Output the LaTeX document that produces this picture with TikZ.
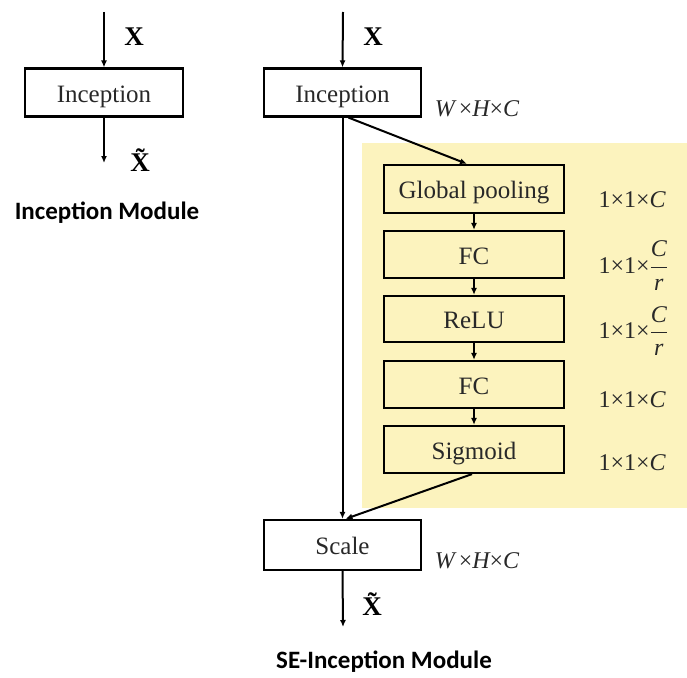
\documentclass[tikz,border=0pt]{standalone}
\usepackage{fontspec}
\setmainfont{Liberation Serif}
\newfontfamily\labelsans{Carlito}
\usetikzlibrary{arrows.meta}
\definecolor{seyellow}{RGB}{252,243,190}
\definecolor{txt}{RGB}{40,40,40}
\tikzset{
  blk/.style={draw=black, line width=2.2pt, minimum height=48pt, inner sep=0pt, text height=19pt, text depth=0pt, text=txt, font=\fontsize{25}{28}\selectfont},
  wideblk/.style={blk, minimum width=157pt},
  seblk/.style={blk, minimum width=180pt, fill=seyellow},
  conn/.style={line width=2pt, -{Latex[length=7pt,width=6pt]}},
  dimlbl/.style={anchor=west, text=txt, font=\fontsize{24}{27}\selectfont},
  shp/.style={text=txt, font=\fontsize{24}{27}\selectfont},
  xlbl/.style={font=\fontsize{27}{29}\selectfont\bfseries},
  title/.style={font=\fontsize{25}{28}\selectfont\labelsans\bfseries}
}
\newcommand{\fracCr}{$\displaystyle\frac{\mbox{\itshape C}}{\mbox{\itshape r}}$}
\begin{document}
\begin{tikzpicture}[x=1pt,y=-1pt]
\useasboundingbox (0,0) rectangle (687,677);
\fill[seyellow] (362,143) rectangle (687,508);

% left module
\node[wideblk, minimum width=158pt] (inc1) at (104,92.5) {Inception};
\coordinate (in1) at (104,12);
\coordinate (out1) at (104,163);
\draw[conn] (in1) -- (inc1.north);
\draw[conn] (inc1.south) -- (out1);
\node[xlbl] (x1) at (134,37) {X};
\node[xlbl] (xt1) at (140,160) {\~{X}};
\node[title] (t1) at (107,213) {Inception Module};

% right module
\node[wideblk] (inc2) at (342.5,92.5) {Inception};
\coordinate (in2) at (343,12);
\node[xlbl] (x2) at (373,37) {X};
\node[shp] (d0) at (477,109) {\itshape W\,\upshape×\itshape H\upshape×\itshape C};

\node[seblk] (gp) at (474,189) {Global pooling};
\node[seblk, minimum height=47pt] (fc1) at (474,254.5) {FC};
\node[seblk, minimum height=46pt] (relu) at (474,319) {ReLU};
\node[seblk, minimum height=47pt] (fc2) at (474,384.5) {FC};
\node[seblk, minimum height=47pt] (sig) at (474,449.5) {Sigmoid};

\node[dimlbl] (d1) at (595,200) {1×1×\itshape C};
\node[dimlbl] (d2) at (595,266) {1×1×\fracCr};
\node[dimlbl] (d3) at (595,331) {1×1×\fracCr};
\node[dimlbl] (d4) at (595,400) {1×1×\itshape C};
\node[dimlbl] (d5) at (595,463) {1×1×\itshape C};

\node[wideblk, minimum height=50pt] (scale) at (342.5,545) {Scale};
\node[shp] (d6) at (477,561) {\itshape W\,\upshape×\itshape H\upshape×\itshape C};
\coordinate (out2) at (343,627);
\node[xlbl] (xt2) at (372,604) {\~{X}};
\node[title] (t2) at (384,662) {SE-Inception Module};

\draw[conn] (in2) -- (inc2.north);
\draw[conn] (inc2.south) -- (scale.north);
\draw[conn] ([xshift=6pt]inc2.south) -- ([xshift=-7pt]gp.north);
\draw[conn] (gp.south) -- (fc1.north);
\draw[conn] (fc1.south) -- (relu.north);
\draw[conn] (relu.south) -- (fc2.north);
\draw[conn] (fc2.south) -- (sig.north);
\draw[conn] ([xshift=-2pt]sig.south) -- ([xshift=3pt]scale.north);
\draw[conn] (scale.south) -- (out2);
\end{tikzpicture}
\end{document}
